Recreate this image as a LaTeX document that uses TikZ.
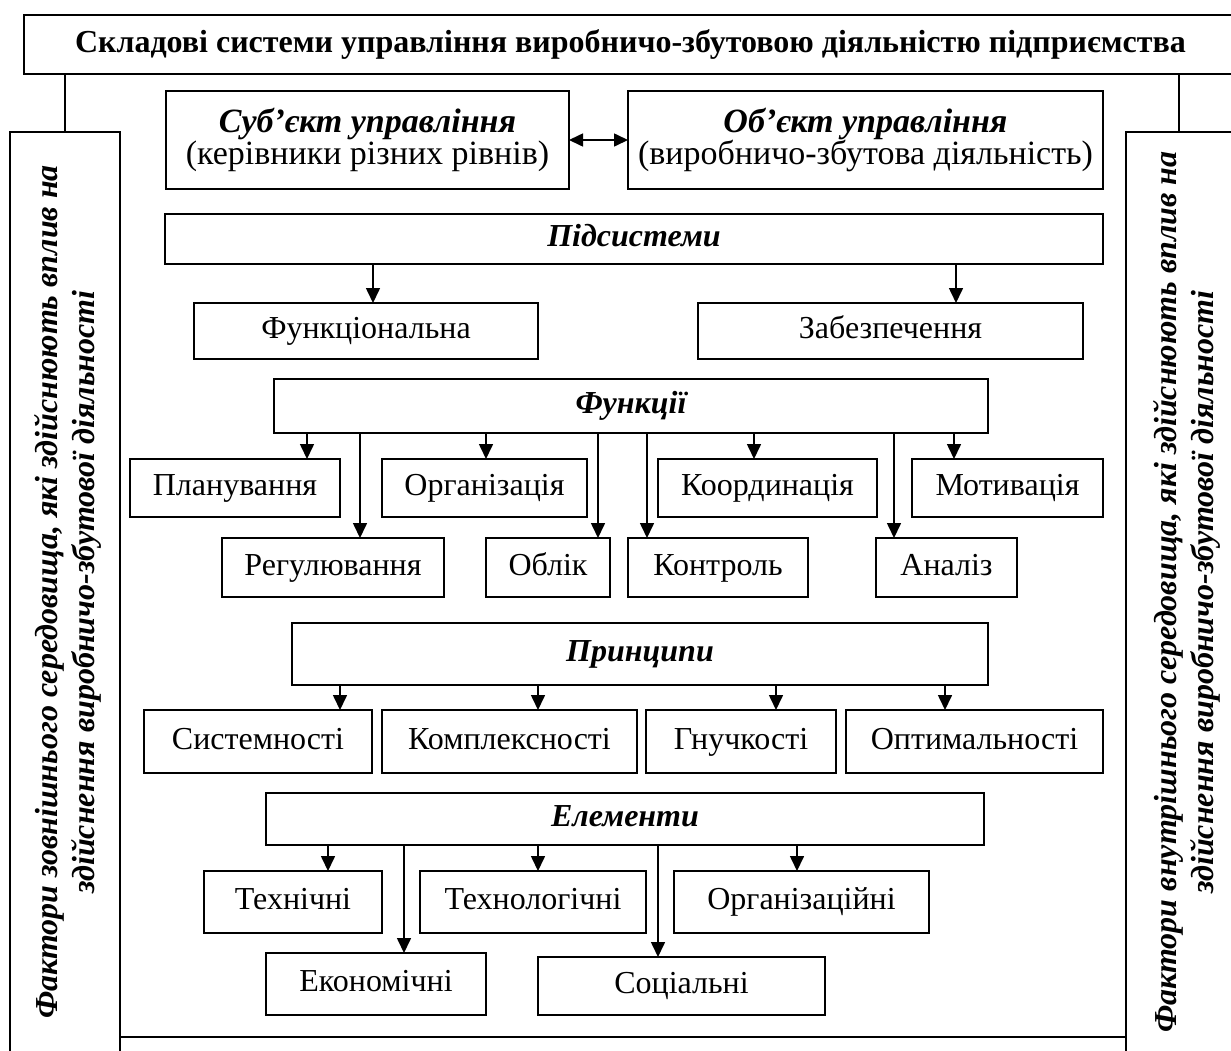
\documentclass[tikz,border=0pt]{standalone}
\usepackage{fontspec}
\setmainfont{Liberation Serif}
\usetikzlibrary{arrows.meta}
\newcommand\boxat[7][box]{\node[#1, minimum width={#5pt-#3pt}, minimum height={#6pt-#4pt}] (#2) at ({(#3+#5)/2},{(#4+#6)/2}) {#7};}
\newcommand\arrat[3]{\draw[arr] (#3,0 |- #1.south) -- (#3,0 |- #2.north);}
\begin{document}
\begin{tikzpicture}[x=1pt,y=-1pt,
  frame/.style={draw, line width=1.9pt, inner sep=0pt, outer sep=0pt, align=center},
  box/.style={frame, text height=22pt, text depth=7pt, font=\fontsize{32}{30}\selectfont},
  two/.style={frame, font=\fontsize{34}{32}\selectfont},
  hdr/.style={box, font=\fontsize{32}{30}\selectfont\bfseries\itshape},
  ttl/.style={box, font=\fontsize{32}{32}\selectfont\bfseries},
  side/.style={draw, line width=1.6pt, inner sep=0pt, outer sep=0pt, rotate=90},
  sidetext/.style={align=center, rotate=90, inner sep=0pt, font=\fontsize{32}{37}\selectfont\bfseries\itshape},
  thin/.style={line width=1.6pt},
  arr/.style={line width=1.6pt, -{Triangle[width=14pt,length=15pt]}},
  darr/.style={line width=1.6pt, {Triangle[width=13pt,length=14pt]}-{Triangle[width=13pt,length=14pt]}}]
\useasboundingbox (0,0) rectangle (1231,1050);
\clip (0,0) rectangle (1231,1050);
\fill[white] (0,0) rectangle (1231,1050);
% title
\boxat[ttl]{title}{24}{15}{1237}{74}{Складові системи управління виробничо-збутовою діяльністю підприємства}
% side boxes
\node[side, minimum width=920pt, minimum height=110pt] (lside) at (65,592) {};
\node[sidetext] (ltext) at (68,592)
  {Фактори зовнішнього середовища, які здійснюють вплив на\\здійснення виробничо-збутової діяльності};
\node[side, minimum width=920pt, minimum height=106pt] (rside) at (1179,592) {};
\node[sidetext] (rtext) at (1187,592)
  {Фактори внутрішнього середовища, які здійснюють вплив на\\здійснення виробничо-збутової діяльності};
\draw[thin] (title.south -| lside.east) -- (lside.east);
\draw[thin] (title.south -| rside.east) -- (rside.east);
\draw[thin] (lside.south |- 0,1037) -- (rside.north |- 0,1037);
% subject / object
\boxat[two]{subj}{166}{91}{569}{189}{\textbf{\textit{Суб’єкт управління}}\\(керівники різних рівнів)}
\boxat[two]{obj}{628}{91}{1103}{189}{\textbf{\textit{Об’єкт управління}}\\(виробничо-збутова діяльність)}
\draw[darr] (subj.east) -- (obj.west);
% subsystems
\boxat[hdr]{subs}{165}{214}{1103}{264}{Підсистеми}
\boxat{func}{194}{303}{538}{359}{Функціональна}
\boxat{zab}{698}{303}{1083}{359}{Забезпечення}
\arrat{subs}{func}{373}
\arrat{subs}{zab}{956}
% functions
\boxat[hdr]{fun}{274}{379}{988}{433}{Функції}
\boxat{plan}{130}{459}{340}{517}{Планування}
\boxat{org}{382}{459}{587}{517}{Організація}
\boxat{coord}{658}{459}{877}{517}{Координація}
\boxat{motiv}{912}{459}{1103}{517}{Мотивація}
\boxat{reg}{222}{538}{444}{597}{Регулювання}
\boxat{obl}{486}{538}{610}{597}{Облік}
\boxat{kontr}{628}{538}{808}{597}{Контроль}
\boxat{anal}{876}{538}{1017}{597}{Аналіз}
\arrat{fun}{plan}{307}
\arrat{fun}{reg}{360}
\arrat{fun}{org}{486}
\arrat{fun}{obl}{598}
\arrat{fun}{kontr}{647}
\arrat{fun}{coord}{754}
\arrat{fun}{anal}{894}
\arrat{fun}{motiv}{954}
% principles
\boxat[hdr]{prin}{292}{623}{988}{685}{Принципи}
\boxat{sys}{144}{710}{372}{773}{Системності}
\boxat{kompl}{382}{710}{637}{773}{Комплексності}
\boxat{gnuch}{646}{710}{836}{773}{Гнучкості}
\boxat{optim}{846}{710}{1103}{773}{Оптимальності}
\arrat{prin}{sys}{340}
\arrat{prin}{kompl}{538}
\arrat{prin}{gnuch}{776}
\arrat{prin}{optim}{945}
% elements
\boxat[hdr]{elem}{266}{793}{984}{845}{Елементи}
\boxat{tech}{204}{871}{382}{933}{Технічні}
\boxat{techn}{420}{871}{646}{933}{Технологічні}
\boxat{orgz}{674}{871}{929}{933}{Організаційні}
\boxat{econ}{266}{953}{486}{1015}{Економічні}
\boxat{soc}{538}{957}{825}{1015}{Соціальні}
\arrat{elem}{tech}{328}
\arrat{elem}{econ}{404}
\arrat{elem}{techn}{538}
\arrat{elem}{soc}{658}
\arrat{elem}{orgz}{797}
\end{tikzpicture}
\end{document}
